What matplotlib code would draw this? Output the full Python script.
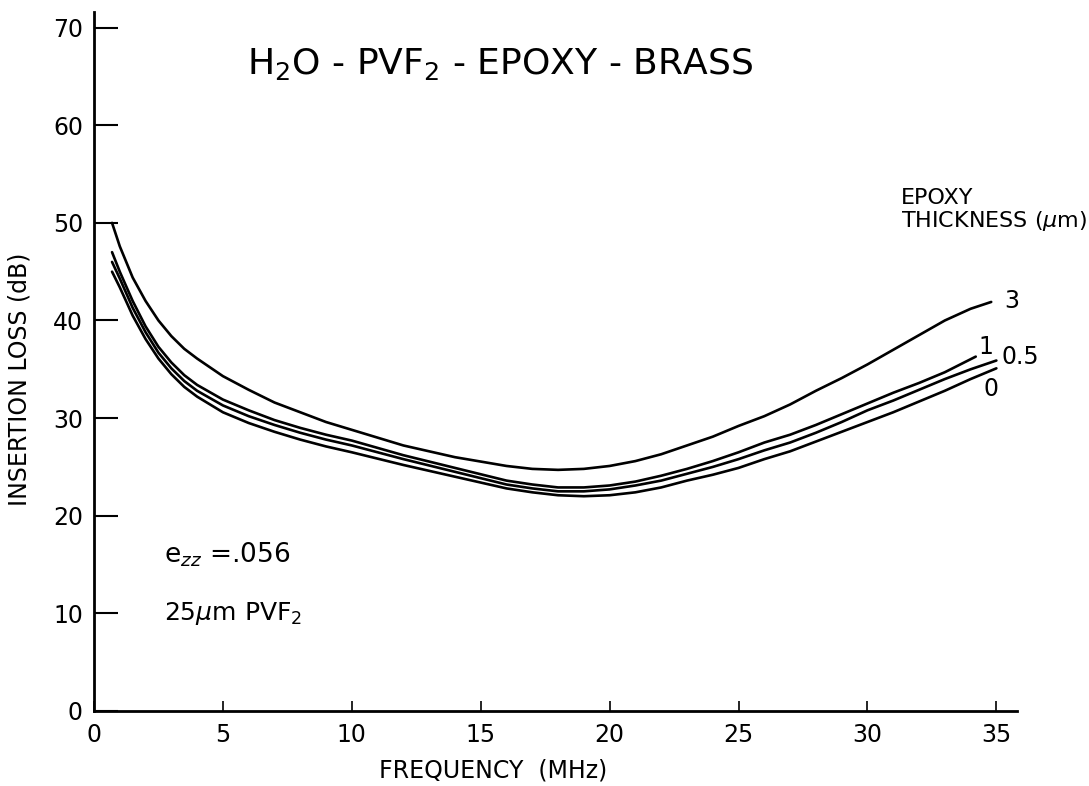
import matplotlib
matplotlib.use("Agg")
import matplotlib.pyplot as plt

plt.rcParams['font.family'] = ['DejaVu Sans']
plt.rcParams['mathtext.fontset'] = 'dejavusans'

# ---- data ----
x3 = [0.7, 1, 1.5, 2, 2.5, 3, 3.5, 4, 5, 6, 7, 8, 9, 10, 12, 14, 16, 17, 18, 19, 20,
      21, 22, 23, 24, 25, 26, 27, 28, 29, 30, 31, 32, 33, 34, 34.8]
y3 = [50.0, 47.6, 44.4, 42.0, 40.0, 38.4, 37.1, 36.1, 34.3, 32.9, 31.6, 30.6, 29.6, 28.8,
      27.2, 26.0, 25.1, 24.8, 24.7, 24.8, 25.1, 25.6, 26.3, 27.2, 28.1, 29.2, 30.2,
      31.4, 32.8, 34.1, 35.5, 37.0, 38.5, 40.0, 41.2, 41.9]

x1 = [0.7, 1, 1.5, 2, 2.5, 3, 3.5, 4, 5, 6, 7, 8, 9, 10, 12, 14, 16, 17, 18, 19, 20,
      21, 22, 23, 24, 25, 26, 27, 28, 29, 30, 31, 32, 33, 34.2]
y1 = [47.0, 45.0, 42.0, 39.4, 37.3, 35.7, 34.4, 33.4, 31.9, 30.8, 29.8, 29.0, 28.3, 27.7,
      26.2, 24.9, 23.6, 23.2, 22.9, 22.9, 23.1, 23.5, 24.1, 24.8, 25.6, 26.5, 27.5,
      28.3, 29.3, 30.4, 31.5, 32.6, 33.6, 34.7, 36.3]

x05 = [0.7, 1, 1.5, 2, 2.5, 3, 3.5, 4, 5, 6, 7, 8, 9, 10, 12, 14, 16, 17, 18, 19, 20,
       21, 22, 23, 24, 25, 26, 27, 28, 29, 30, 31, 32, 33, 34, 35]
y05 = [46.0, 44.3, 41.3, 38.8, 36.7, 35.1, 33.8, 32.8, 31.3, 30.2, 29.3, 28.5, 27.8, 27.2,
       25.8, 24.5, 23.2, 22.8, 22.5, 22.5, 22.7, 23.1, 23.6, 24.3, 25.0, 25.8, 26.7,
       27.5, 28.5, 29.6, 30.8, 31.8, 32.9, 34.0, 35.0, 35.9]

x0 = [0.7, 1, 1.5, 2, 2.5, 3, 3.5, 4, 5, 6, 7, 8, 9, 10, 12, 14, 16, 17, 18, 19, 20,
      21, 22, 23, 24, 25, 26, 27, 28, 29, 30, 31, 32, 33, 34, 35]
y0 = [45.0, 43.4, 40.5, 38.1, 36.1, 34.5, 33.2, 32.2, 30.6, 29.5, 28.6, 27.8, 27.1, 26.5,
      25.2, 24.0, 22.8, 22.4, 22.1, 22.0, 22.1, 22.4, 22.9, 23.6, 24.2, 24.9, 25.8,
      26.6, 27.6, 28.6, 29.6, 30.6, 31.7, 32.8, 34.0, 35.1]

xticks = [0, 5, 10, 15, 20, 25, 30, 35]
yticks = [0, 10, 20, 30, 40, 50, 60, 70]

fig = plt.figure(figsize=(10.89, 7.86), dpi=100)
ax = fig.add_axes([94 / 1089, 75 / 786, (1017 - 94) / 1089, (711 - 12) / 786])
ax.set_xlim(0, 35.8)
ax.set_ylim(0, 71.6)

lw = 1.9
for xs, ys in [(x3, y3), (x1, y1), (x05, y05), (x0, y0)]:
    ax.plot(xs, ys, color='black', lw=lw, solid_capstyle='round',
            solid_joinstyle='round')

for s in ['top', 'right']:
    ax.spines[s].set_visible(False)
for s in ['left', 'bottom']:
    ax.spines[s].set_linewidth(2)

ax.set_xticks(xticks)
ax.set_yticks(yticks)
ax.tick_params(axis='y', direction='in', length=17, width=1.5, pad=8, labelsize=17)
ax.tick_params(axis='x', direction='in', length=7, width=1.2, pad=9, labelsize=17)

ax.set_xlabel('FREQUENCY  (MHz)', fontsize=17)
ax.xaxis.set_label_coords(0.432, -0.068)
ax.set_ylabel('INSERTION LOSS (dB)', fontsize=17)
ax.yaxis.set_label_coords(-0.068, 0.474)

ax.text(15.75, 66.3, r'H$_2$O - PVF$_2$ - EPOXY - BRASS', fontsize=26,
        ha='center', va='center')

ax.text(31.3, 52.5, 'EPOXY', fontsize=16, ha='left', va='center')
ax.text(31.3, 50.2, r'THICKNESS ($\mu$m)', fontsize=16, ha='left', va='center')

ax.text(2.7, 16.0, r'e$_{zz}$ =.056', fontsize=19, ha='left', va='center')
ax.text(2.7, 10.0, r'25$\mu$m PVF$_2$', fontsize=18, ha='left', va='center')

ax.text(35.3, 42.0, '3', fontsize=17, ha='left', va='center')
ax.text(34.6, 37.3, '1', fontsize=17, ha='center', va='center')
ax.text(35.2, 36.3, '0.5', fontsize=17, ha='left', va='center')
ax.text(34.8, 33.0, '0', fontsize=17, ha='center', va='center')

fig.savefig('out.png', dpi=100, facecolor='white')
